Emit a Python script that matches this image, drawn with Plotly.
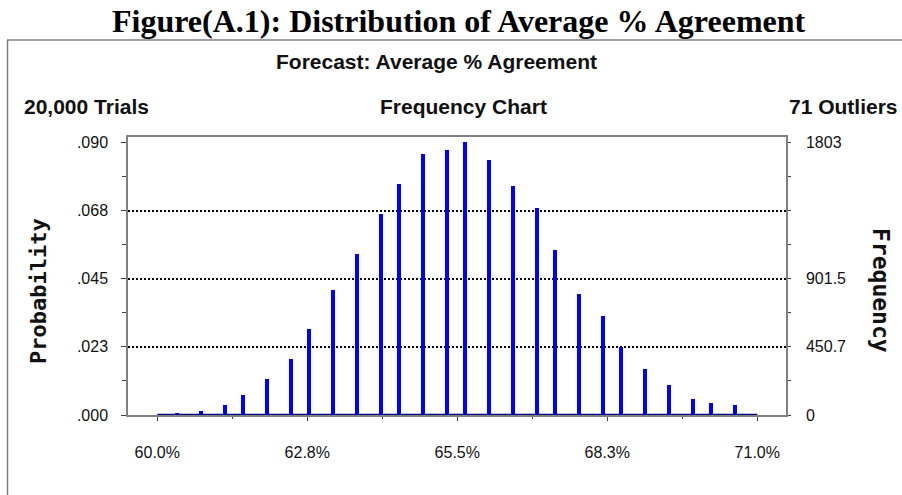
import plotly.graph_objects as go

# ---------------- data ----------------
bin_centers = [60.36, 60.80, 61.24, 61.57, 62.01, 62.45, 62.78, 63.22, 63.66, 64.10,
               64.43, 64.87, 65.31, 65.64, 66.08, 66.52, 66.96, 67.29, 67.73, 68.17,
               68.50, 68.94, 69.38, 69.82, 70.15, 70.59]
frequencies = [13, 26, 66, 132, 237, 368, 566, 829, 1066, 1329,
               1527, 1724, 1750, 1803, 1685, 1513, 1369, 1092, 803, 658,
               447, 303, 197, 105, 79, 66]
trials = 20000
outliers = 71
x_min, x_max = 60.0, 71.0
x_tick_vals = [60.0, 62.75, 65.5, 68.25, 71.0]
x_tick_text = ["60.0%", "62.8%", "65.5%", "68.3%", "71.0%"]
max_freq = 1803
y_frac = [0, 0.25, 0.5, 0.75, 1.0]
prob_tick_text = [".000", ".023", ".045", ".068", ".090"]
freq_tick_text = ["0", "450.7", "901.5", "", "1803"]

# ---------------- layout geometry ----------------
W, H = 902, 495
L, R, T, B = 128, 116, 137, 80
PW, PH = W - L - R, H - T - B


def px(x):
    return (x - L) / PW


def py(y):
    return (H - B - y) / PH


y_ticks = [max_freq * f for f in y_frac]
y_minor = [max_freq * (f + 0.125) for f in y_frac[:-1]]
y_top = max_freq * 278 / 272.6
x_minor = [(a + b) / 2 for a, b in zip(x_tick_vals[:-1], x_tick_vals[1:])]
x_range = [x_min - 29.3 / 600 * (x_max - x_min), x_max + 28.7 / 600 * (x_max - x_min)]

GRAY = "#808080"
TICKC = "#404040"
TICKFONT = dict(family="Liberation Sans, Arial", size=16, color="#111")

fig = go.Figure()
fig.add_trace(go.Bar(x=bin_centers, y=frequencies, width=0.075,
                     marker=dict(color="#0000FF", line=dict(width=0)),
                     showlegend=False, hoverinfo="x+y"))
fig.add_trace(go.Scatter(x=[x_min, x_max], y=[0, 0], mode="lines", yaxis="y2",
                         line=dict(color="#000080", width=2.5), showlegend=False,
                         hoverinfo="skip", cliponaxis=False))
fig.add_trace(go.Scatter(x=[x_min], y=[0], mode="markers", yaxis="y3",
                         marker=dict(opacity=0), showlegend=False, hoverinfo="skip"))

fig.update_layout(
    width=W, height=H,
    margin=dict(l=L, r=R, t=T, b=B),
    paper_bgcolor="white", plot_bgcolor="white",
    bargap=0,
    xaxis=dict(range=x_range, tickvals=x_tick_vals, ticktext=x_tick_text,
               ticks="outside", ticklen=4, tickcolor=TICKC, tickwidth=1,
               minor=dict(tickvals=x_minor, ticks="outside", ticklen=2, tickcolor=TICKC),
               ticklabelstandoff=18,
               showline=True, linecolor=GRAY, linewidth=1.5, mirror=True,
               showgrid=False, zeroline=False, tickfont=TICKFONT),
    yaxis=dict(range=[0, y_top], tickvals=y_ticks, ticktext=prob_tick_text,
               ticks="outside", ticklen=5, tickcolor=TICKC,
               minor=dict(tickvals=y_minor, ticks="outside", ticklen=4, tickcolor=TICKC),
               ticklabelstandoff=10,
               showline=True, linecolor=GRAY, linewidth=1.5, mirror=True,
               showgrid=False, zeroline=False, tickfont=TICKFONT),
    yaxis2=dict(range=[0, y_top], overlaying="y", side="right",
                tickvals=y_ticks, ticktext=freq_tick_text,
                ticks="outside", ticklen=3, tickcolor=TICKC,
                minor=dict(tickvals=y_minor, ticks="outside", ticklen=3, tickcolor=TICKC),
                ticklabelstandoff=12,
                showline=True, linecolor=GRAY, linewidth=1.5,
                showgrid=False, zeroline=False, tickfont=TICKFONT),
    yaxis3=dict(range=[0, y_top], overlaying="y", side="left",
                tickvals=y_ticks[1:-1], showticklabels=False, ticks="",
                showgrid=True, gridcolor="black", gridwidth=1.5, griddash="2px,2px",
                showline=False, zeroline=False),
)

# range-end triangles anchored on the data range
fig.add_shape(type="path", xref="x", yref="y", xsizemode="pixel", ysizemode="pixel",
              xanchor=x_min, yanchor=0, path="M0,-2 L0,-22 L11,-12 Z",
              fillcolor="black", line=dict(width=0))
fig.add_shape(type="path", xref="x", yref="y", xsizemode="pixel", ysizemode="pixel",
              xanchor=x_max, yanchor=0, path="M1,-2 L1,-22 L-10,-12 Z",
              fillcolor="black", line=dict(width=0))

# outer frame
fig.add_shape(type="line", xref="paper", yref="paper", x0=px(7.5), x1=px(7.5),
              y0=py(40), y1=py(H + 5), line=dict(color=GRAY, width=1.5))
fig.add_shape(type="line", xref="paper", yref="paper", x0=px(7), x1=px(W + 5),
              y0=py(40), y1=py(40), line=dict(color=GRAY, width=1.5))

HB = dict(family="Liberation Sans, Arial", size=21, color="#111")
annots = [
    dict(text="<b>Figure(A.1): Distribution of Average % Agreement</b>", x=px(459), y=py(21),
         font=dict(family="Liberation Serif, Times New Roman", size=32, color="black"),
         xanchor="center"),
    dict(text="<b>Forecast: Average % Agreement</b>", x=px(436), y=py(62), font=HB, xanchor="center"),
    dict(text=f"<b>{trials:,} Trials</b>", x=px(22), y=py(106), font=HB, xanchor="left"),
    dict(text="<b>Frequency Chart</b>", x=px(463), y=py(106), font=HB, xanchor="center"),
    dict(text=f"<b>{outliers} Outliers</b>", x=px(900), y=py(106), font=HB, xanchor="right"),
    dict(text="<b>Probability</b>", x=px(38), y=py(291), textangle=-90,
         font=dict(family="DejaVu Sans Mono", size=22, color="#111"), xanchor="center"),
    dict(text="<b>Frequency</b>", x=px(881), y=py(290), textangle=90,
         font=dict(family="DejaVu Sans Mono", size=23, color="#111"), xanchor="center"),
]
for a in annots:
    a.update(xref="paper", yref="paper", showarrow=False, yanchor="middle")
    fig.add_annotation(**a)

fig.write_html("out.html", config={"displayModeBar": False},
               post_script="document.body.style.margin='0';")
